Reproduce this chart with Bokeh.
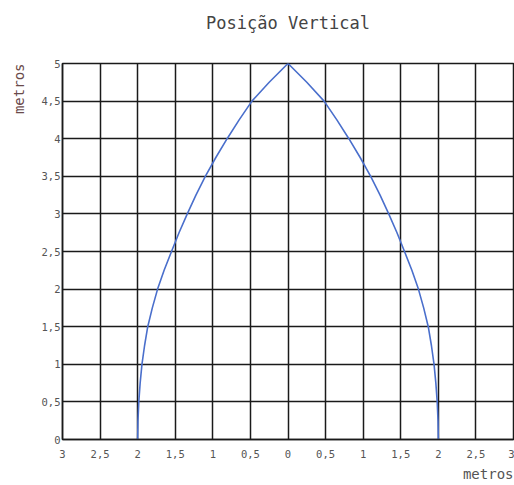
from bokeh.plotting import figure
from bokeh.models import Range1d, FixedTicker, Title
from bokeh.embed import file_html
from bokeh.resources import INLINE

# Data
curve_x = [-2.0, -1.996, -1.985, -1.967, -1.943, -1.908, -1.866, -1.805, -1.735, -1.648, -1.55,
           -1.45, -1.34, -1.225, -1.10, -0.96, -0.81, -0.65, -0.48, -0.25,
           0.0, 0.25, 0.48, 0.65, 0.81, 0.96, 1.10, 1.225, 1.34, 1.45,
           1.55, 1.648, 1.735, 1.805, 1.866, 1.908, 1.943, 1.967, 1.985, 1.996, 2.0]
curve_y = [0.0, 0.25, 0.5, 0.75, 1.0, 1.25, 1.5, 1.75, 2.0, 2.25, 2.5,
           2.75, 3.0, 3.25, 3.5, 3.75, 4.0, 4.25, 4.5, 4.75,
           5.0, 4.75, 4.5, 4.25, 4.0, 3.75, 3.5, 3.25, 3.0, 2.75,
           2.5, 2.25, 2.0, 1.75, 1.5, 1.25, 1.0, 0.75, 0.5, 0.25, 0.0]

x_ticks = [-3, -2.5, -2, -1.5, -1, -0.5, 0, 0.5, 1, 1.5, 2, 2.5, 3]
x_tick_labels = ["3", "2,5", "2", "1,5", "1", "0,5", "0", "0,5", "1", "1,5", "2", "2,5", "3"]
y_ticks = [0, 0.5, 1, 1.5, 2, 2.5, 3, 3.5, 4, 4.5, 5]
y_tick_labels = ["0", "0,5", "1", "1,5", "2", "2,5", "3", "3,5", "4", "4,5", "5"]

title_text = "Posição Vertical"
x_label_text = "metros"
y_label_text = "metros"

FONT = "DejaVu Sans Mono"

p = figure(width=514, height=485, output_backend="svg", toolbar_location=None,
           x_range=Range1d(-3, 3), y_range=Range1d(0, 5),
           min_border_left=62, min_border_right=1, min_border_top=63, min_border_bottom=46)
p.title = None
p.background_fill_color = "white"
p.border_fill_color = "white"
p.outline_line_color = "#1a1a1a"
p.outline_line_width = 1.5

p.xaxis.ticker = FixedTicker(ticks=x_ticks)
p.yaxis.ticker = FixedTicker(ticks=y_ticks)
p.xaxis.major_label_overrides = {t: l for t, l in zip(x_ticks, x_tick_labels)}
p.yaxis.major_label_overrides = {t: l for t, l in zip(y_ticks, y_tick_labels)}

for ax in (p.xaxis, p.yaxis):
    ax.major_tick_line_color = None
    ax.minor_tick_line_color = None
    ax.major_tick_out = 0
    ax.major_tick_in = 0
    ax.axis_line_color = "#1a1a1a"
    ax.axis_line_width = 1.5
    ax.major_label_text_font = FONT
    ax.major_label_text_font_size = "10.5px"
    ax.major_label_text_color = "#555555"

p.xaxis.major_label_standoff = 10
p.yaxis.major_label_standoff = 2

p.grid.grid_line_color = "#1a1a1a"
p.grid.grid_line_width = 1.5
p.grid.grid_line_alpha = 1.0

p.line(curve_x, curve_y, line_color="#4a6fcc", line_width=1.6)

# spacer between frame and title (keeps the title up high)
p.add_layout(Title(text=" ", standoff=0, text_font=FONT, text_font_size="16px"), "above")
# Title
p.add_layout(Title(text=title_text, align="center", standoff=19,
                   text_font=FONT, text_font_size="17px", text_font_style="normal",
                   text_color="#444444"), "above")

# x axis label (bottom right)
p.add_layout(Title(text=x_label_text, align="right", standoff=6,
                   text_font=FONT, text_font_size="14px", text_font_style="normal",
                   text_color="#555555"), "below")
# y axis label (top left, rotated)
p.add_layout(Title(text=y_label_text, align="right", vertical_align="top", standoff=19,
                   text_font=FONT, text_font_size="14px", text_font_style="normal",
                   text_color="#6a4a4a"), "left")

open("out.html", "w").write(file_html(p, INLINE))
